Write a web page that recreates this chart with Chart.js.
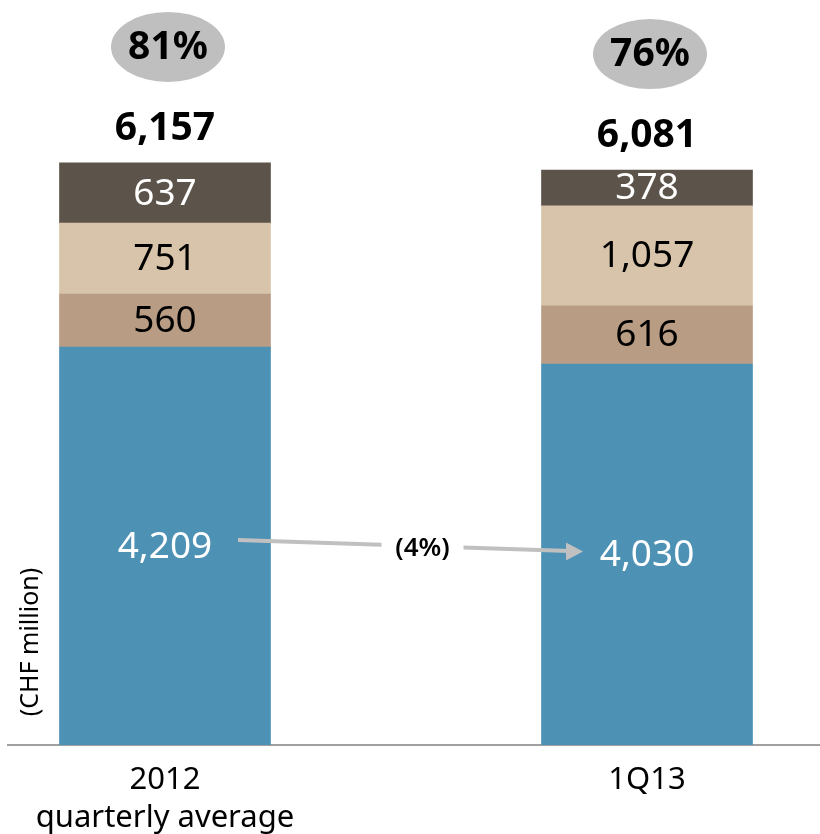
<!DOCTYPE html>
<html>
<head>
<meta charset="utf-8">
<script src="https://cdn.jsdelivr.net/npm/chart.js@4/dist/chart.umd.min.js"></script>
<style>
  html, body { margin: 0; padding: 0; background: #fff; }
  #wrap { width: 820px; height: 834px; position: relative; }
</style>
</head>
<body>
<div id="wrap"><canvas id="costChart"></canvas></div>
<script>
// --- data ---
const categories = [['2012', 'quarterly average'], ['1Q13']];
const personnel = [4209, 4030];
const generalAdmin = [560, 616];
const otherCosts = [751, 1057];
const provisions = [637, 378];
const totals = [6157, 6081];
const shares = ['81%', '76%'];
const changeLabel = '(4%)';
const axisTitle = '(CHF million)';

const FONT = "'Noto Sans', 'Open Sans', sans-serif";

function toPoints(values) {
    return values.map((v, i) => ({ x: i, y: v }));
}

const fmt = (v) => v.toLocaleString('en-US');

// segment labels, totals, ellipses, arrow
const annotations = {
    id: 'annotations',
    afterDatasetsDraw(chart) {
        const ctx = chart.ctx;
        ctx.save();
        ctx.textAlign = 'center';
        ctx.textBaseline = 'middle';

        // values inside each segment
        chart.data.datasets.forEach((ds, i) => {
            const meta = chart.getDatasetMeta(i);
            meta.data.forEach((bar, j) => {
                const cy = (bar.y + bar.base) / 2;
                ctx.fillStyle = ds.labelColor;
                ctx.font = '37px ' + FONT;
                ctx.fillText(fmt(ds.data[j].y), bar.x, cy + 1);
            });
        });

        // totals and share ellipses
        const topMeta = chart.getDatasetMeta(chart.data.datasets.length - 1);
        topMeta.data.forEach((bar, j) => {
            ctx.fillStyle = '#000';
            ctx.font = 'bold 39px ' + FONT;
            ctx.fillText(fmt(totals[j]), bar.x, bar.y - 34);

            const ey = bar.y - 116;
            ctx.fillStyle = '#BFBFBF';
            ctx.beginPath();
            ctx.ellipse(bar.x + 3, ey, 57, 35, 0, 0, Math.PI * 2);
            ctx.fill();
            ctx.fillStyle = '#000';
            ctx.fillText(shares[j], bar.x + 3, ey + 1);
        });

        // arrow between the two personnel labels
        const base = chart.getDatasetMeta(0).data;
        const b0 = base[0], b1 = base[1];
        const y0 = (b0.y + b0.base) / 2 - 6;
        const y1 = (b1.y + b1.base) / 2 - 3;
        const x0 = b0.x + 73, x1 = b1.x - 64;
        ctx.strokeStyle = '#C0C0C0';
        ctx.fillStyle = '#C0C0C0';
        ctx.lineWidth = 4;
        ctx.beginPath();
        ctx.moveTo(x0, y0);
        ctx.lineTo(x1 - 14, y1 - 0.4);
        ctx.stroke();
        ctx.beginPath();
        ctx.moveTo(x1, y1);
        ctx.lineTo(x1 - 17, y1 - 9);
        ctx.lineTo(x1 - 17, y1 + 9);
        ctx.closePath();
        ctx.fill();

        const mx = (x0 + x1) / 2 + 12;
        const my = y0 + (y1 - y0) * ((mx - x0) / (x1 - x0)) + 2;
        ctx.fillStyle = '#fff';
        ctx.fillRect(mx - 41, my - 20, 82, 40);
        ctx.fillStyle = '#000';
        ctx.font = '600 26px ' + FONT;
        ctx.fillText(changeLabel, mx, my);

        // unit label
        ctx.save();
        ctx.translate(31, 642);
        ctx.rotate(-Math.PI / 2);
        ctx.font = '25px ' + FONT;
        ctx.fillText(axisTitle, 0, 0);
        ctx.restore();

        ctx.restore();
    }
};

const chartCanvas = document.getElementById('costChart');

new Chart(chartCanvas, {
    type: 'bar',
    data: {
        datasets: [
            { label: 'Personnel', data: toPoints(personnel), backgroundColor: '#4D91B5', labelColor: '#fff' },
            { label: 'G&A', data: toPoints(generalAdmin), backgroundColor: '#B89C84', labelColor: '#000' },
            { label: 'Other', data: toPoints(otherCosts), backgroundColor: '#D8C4AA', labelColor: '#000' },
            { label: 'Provisions', data: toPoints(provisions), backgroundColor: '#5C544A', labelColor: '#fff' }
        ]
    },
    options: {
        responsive: true,
        maintainAspectRatio: false,
        animation: false,
        layout: { padding: { left: 8, right: 0, top: 0, bottom: 0 } },
        datasets: { bar: { barThickness: 211, borderWidth: 0 } },
        plugins: {
            legend: { display: false },
            tooltip: { enabled: false }
        },
        scales: {
            x: {
                type: 'linear',
                stacked: true,
                offset: false,
                bounds: 'data',
                min: -0.3257,
                max: 1.3589,
                grid: { display: false, drawTicks: false },
                border: { display: true, color: '#A0A0A0', width: 2 },
                afterBuildTicks: (scale) => {
                    scale.ticks = categories.map((c, i) => ({ value: i }));
                },
                afterFit: (scale) => { scale.height = 89; },
                ticks: {
                    autoSkip: false,
                    maxRotation: 0,
                    padding: 16,
                    color: '#000',
                    font: { family: FONT, size: 31, lineHeight: 1.22 },
                    callback: (v) => categories[v]
                }
            },
            y: {
                display: false,
                stacked: true,
                min: 0,
                max: 7880
            }
        }
    },
    plugins: [annotations]
});
</script>
</body>
</html>
